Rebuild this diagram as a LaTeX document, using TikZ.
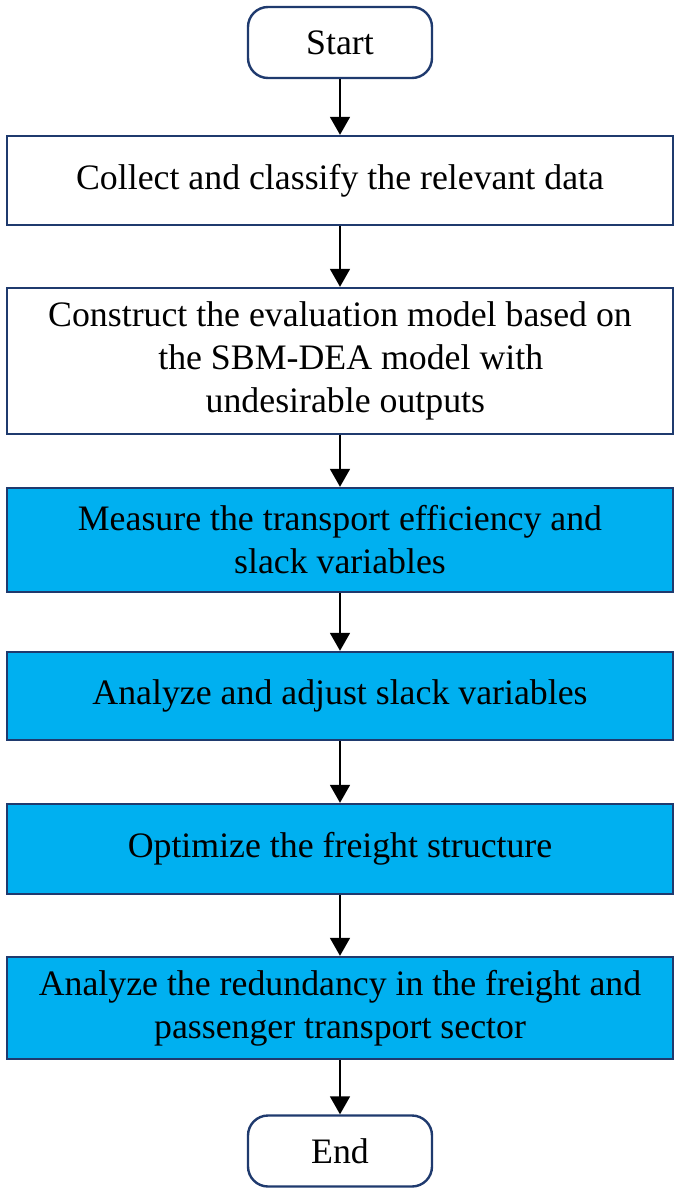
\documentclass[tikz,border=0pt]{standalone}
\usepackage{fontspec}
\setmainfont{Liberation Serif}
\usepackage{tikz}
\usetikzlibrary{shapes,arrows.meta}
\definecolor{boxline}{HTML}{1F3A6E}
\definecolor{boxblue}{HTML}{00B0F0}
\tikzset{
  terminal/.style={rounded corners=10pt, draw=boxline, line width=1.2pt, fill=white, minimum width=92pt, minimum height=35.5pt, inner sep=0pt},
  plainbox/.style={draw=boxline, line width=1.2pt, fill=white, minimum width=333pt, align=center, inner sep=0pt},
  bluebox/.style={plainbox, fill=boxblue},
  flowarrow/.style={line width=0.9pt, -{Triangle[width=10pt,length=9pt]}}
}
\newcommand{\fcterminal}[3] {\node at (#1) (#2) [terminal] {#3};}
\newcommand{\fcplainbox}[4] {\node at (#1) (#2) [plainbox, minimum height=#3] {#4};}
\newcommand{\fcbluebox}[4] {\node at (#1) (#2) [bluebox, minimum height=#3] {#4};}
\newcommand{\fcarrow}[2] {\draw [flowarrow] (#1) -- (#2);}

\begin{document}
\begin{tikzpicture}[x=0.5pt, y=-0.5pt, font=\fontsize{17.9}{21.5}\selectfont]
\useasboundingbox (0,0) rectangle (685,1199);
\fcterminal {340,42.5} {start} {Start};
\fcplainbox {340,180.5} {collect} {44.5pt} {Collect and classify the relevant data};
\fcplainbox {340,361} {model} {73pt} {Construct the evaluation model based on\\\hspace*{0.6em}the SBM-DEA model with\\\hspace*{0.3em}undesirable outputs};
\fcbluebox  {340,540} {measure} {52pt} {Measure the transport efficiency and\\slack variables};
\fcbluebox  {340,696} {adjust} {44pt} {Analyze and adjust slack variables};
\fcbluebox  {340,849} {freight} {45pt} {Optimize the freight structure};
\fcbluebox  {340,1008} {sector} {51pt} {Analyze the redundancy in the freight and\\passenger transport sector};
\fcterminal {340,1151} {end} {End};

\fcarrow{start}{collect};
\fcarrow{collect}{model};
\fcarrow{model}{measure};
\fcarrow{measure}{adjust};
\fcarrow{adjust}{freight};
\fcarrow{freight}{sector};
\fcarrow{sector}{end};

\end{tikzpicture}
\end{document}
